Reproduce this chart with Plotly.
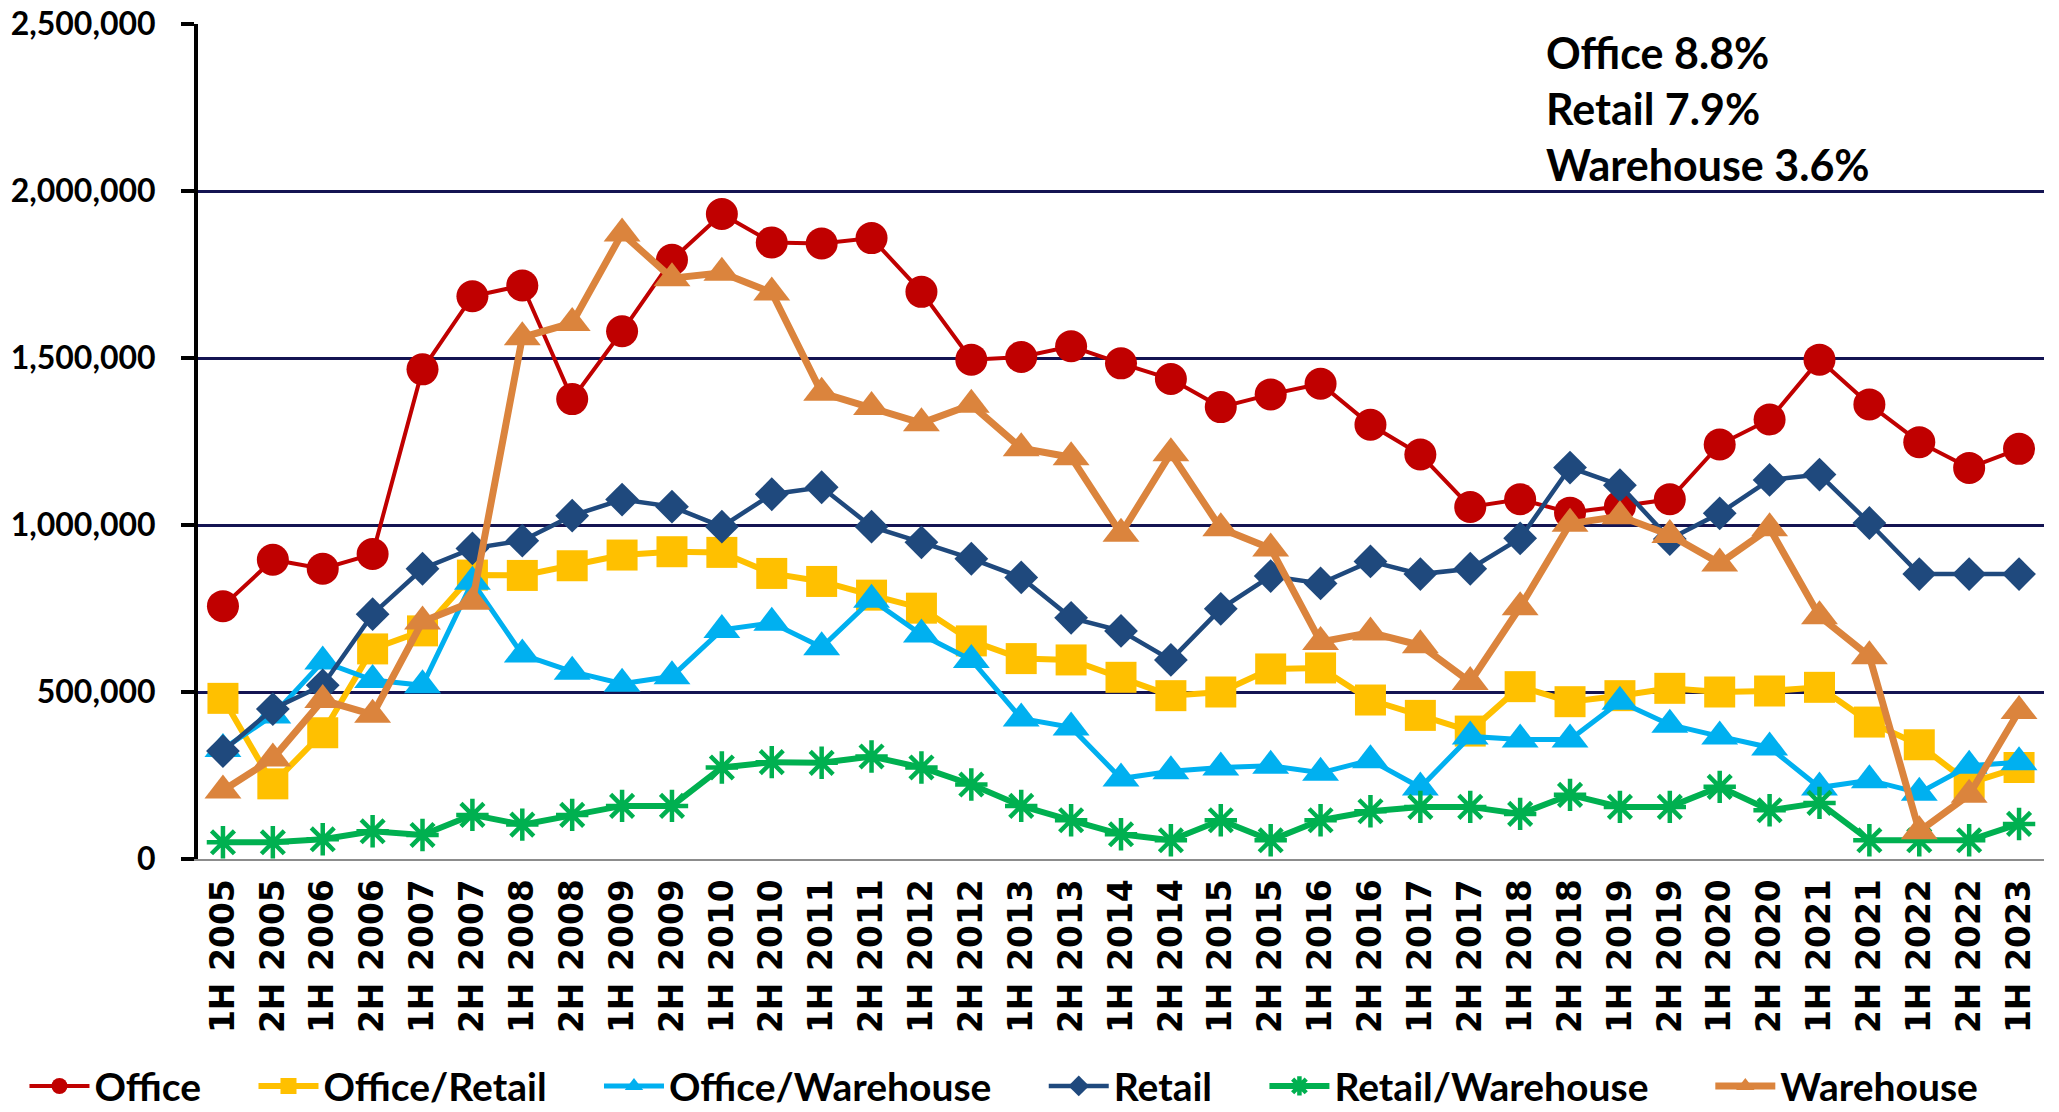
import plotly.graph_objects as go

categories = [
    "1H 2005", "2H 2005", "1H 2006", "2H 2006", "1H 2007", "2H 2007", "1H 2008", "2H 2008",
    "1H 2009", "2H 2009", "1H 2010", "2H 2010", "1H 2011", "2H 2011", "1H 2012", "2H 2012",
    "1H 2013", "2H 2013", "1H 2014", "2H 2014", "1H 2015", "2H 2015", "1H 2016", "2H 2016",
    "1H 2017", "2H 2017", "1H 2018", "2H 2018", "1H 2019", "2H 2019", "1H 2020", "2H 2020",
    "1H 2021", "2H 2021", "1H 2022", "2H 2022", "1H 2023",
]

office = [757000, 896000, 869000, 913000, 1466000, 1685000, 1717000, 1377000, 1580000, 1794000,
          1931000, 1846000, 1843000, 1859000, 1698000, 1495000, 1503000, 1535000, 1484000, 1437000,
          1353000, 1391000, 1423000, 1300000, 1211000, 1054000, 1077000, 1037000, 1056000, 1077000,
          1241000, 1316000, 1495000, 1361000, 1248000, 1171000, 1228000]
office_retail = [481000, 225000, 378000, 629000, 683000, 850000, 849000, 878000, 910000, 920000,
                 918000, 855000, 831000, 790000, 751000, 653000, 600000, 596000, 544000, 489000,
                 500000, 569000, 572000, 476000, 430000, 383000, 516000, 471000, 489000, 511000,
                 500000, 503000, 514000, 410000, 342000, 227000, 274000]
office_warehouse = [329000, 430000, 591000, 536000, 520000, 830000, 612000, 561000, 525000, 547000,
                    686000, 707000, 634000, 776000, 672000, 596000, 421000, 394000, 241000, 263000,
                    274000, 279000, 258000, 296000, 214000, 367000, 358000, 358000, 471000, 402000,
                    367000, 334000, 214000, 236000, 198000, 279000, 290000]
retail = [323000, 449000, 520000, 733000, 869000, 930000, 953000, 1028000, 1076000, 1055000,
          995000, 1092000, 1113000, 995000, 948000, 899000, 843000, 722000, 683000, 596000,
          749000, 847000, 825000, 891000, 853000, 869000, 960000, 1172000, 1119000, 958000,
          1035000, 1135000, 1151000, 1006000, 853000, 853000, 853000]
retail_warehouse = [50000, 50000, 59000, 83000, 72000, 132000, 103000, 132000, 159000, 159000,
                    274000, 290000, 288000, 307000, 274000, 223000, 159000, 116000, 74000, 56000,
                    116000, 56000, 116000, 143000, 156000, 156000, 135000, 192000, 156000, 156000,
                    216000, 146000, 168000, 56000, 56000, 56000, 105000]
warehouse = [205000, 301000, 476000, 432000, 711000, 770000, 1562000, 1605000, 1873000, 1739000,
             1755000, 1696000, 1396000, 1353000, 1305000, 1360000, 1230000, 1203000, 974000, 1215000,
             990000, 930000, 650000, 678000, 640000, 530000, 754000, 1004000, 1026000, 970000,
             885000, 990000, 727000, 607000, 83000, 192000, 443000]

y_ticks = [0, 500000, 1000000, 1500000, 2000000, 2500000]
annotation_lines = ["Office 8.8%", "Retail 7.9%", "Warehouse 3.6%"]

NB = "\u00a0"
series = [
    ("Office", office, "#C00000", "circle", 32, 4, NB * 5),
    ("Office/Retail", office_retail, "#FFC000", "square", 31, 6, NB * 5),
    ("Office/Warehouse", office_warehouse, "#00B0F0", "triangle-up", 32, 5, NB * 5),
    ("Retail", retail, "#1F497D", "diamond", 26, 4.5, NB * 5),
    ("Retail/Warehouse", retail_warehouse, "#00B050", "asterisk-open", 27, 6, NB * 6),
    ("Warehouse", warehouse, "#DB843D", "triangle-up", 32, 7, ""),
]

fig = go.Figure()
for name, vals, color, sym, msize, lw, pad in series:
    if sym == "asterisk-open":
        marker = dict(symbol=sym, size=msize, color=color, line=dict(color=color, width=4.5))
    else:
        marker = dict(symbol=sym, size=msize, color=color, line=dict(width=0))
    fig.add_trace(go.Scatter(
        x=categories, y=vals, name=name + pad, mode="lines+markers",
        line=dict(color=color, width=lw), marker=marker,
    ))

fig.add_annotation(
    text="<br>".join(annotation_lines), xref="paper", yref="paper",
    x=0.729, y=0.899, xanchor="left", yanchor="middle", align="left", showarrow=False,
    font=dict(family="Lato", size=43, color="black", weight="bold"),
)

fig.update_layout(
    width=2059, height=1112,
    margin=dict(l=198, r=15, t=24, b=253, autoexpand=False),
    paper_bgcolor="white", plot_bgcolor="white",
    showlegend=True,
    legend=dict(
        orientation="h", x=-0.094, xanchor="left", y=-0.272, yanchor="middle",
        font=dict(family="Lato", size=39, color="black", weight="bold"),
        itemwidth=60, tracegroupgap=0, bgcolor="rgba(0,0,0,0)",
    ),
    xaxis=dict(
        type="category", range=[-0.5, 36.5], showgrid=False, zeroline=False,
        showline=True, linecolor="#8C8C8C", linewidth=2, ticks="",
        tickangle=-90, ticklabelstandoff=5, automargin=False,
        tickfont=dict(family="DejaVu Sans", size=33, color="black", weight="bold"),
    ),
    yaxis=dict(
        range=[0, 2500000], tickvals=y_ticks, tickformat=",d",
        showgrid=True, gridcolor="#141452", gridwidth=2.5, zeroline=False,
        showline=True, linecolor="black", linewidth=4,
        ticks="outside", ticklen=13, tickwidth=3.5, tickcolor="black",
        ticklabelstandoff=19, automargin=False,
        tickfont=dict(family="Lato", size=32, color="black", weight="bold"),
    ),
)

fig.write_html("out.html", config={"displayModeBar": False},
               post_script="document.body.style.margin='0';")
